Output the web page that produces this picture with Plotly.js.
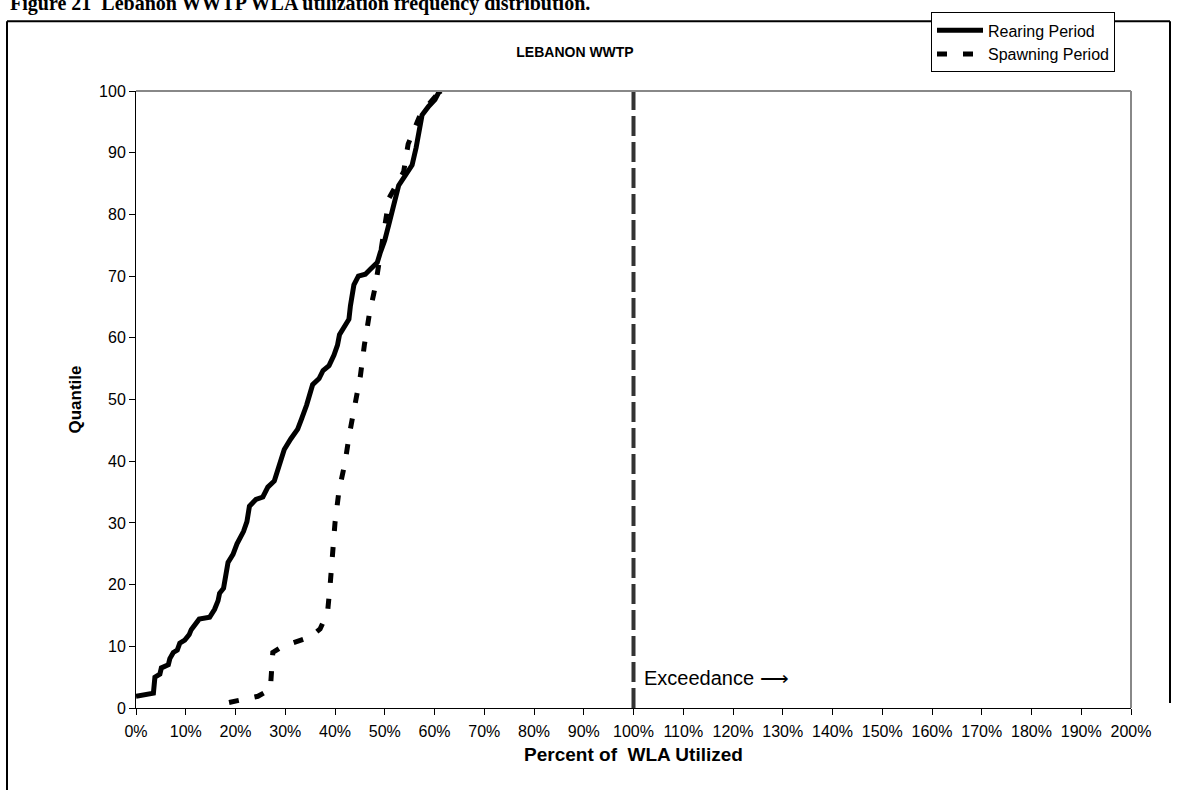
<!DOCTYPE html>
<html>
<head>
<meta charset="utf-8">
<script src="https://cdn.plot.ly/plotly-3.0.1.min.js"></script>
<style>
  html, body { margin: 0; padding: 0; background: #fff; }
  #chart { width: 1177px; height: 790px; }
</style>
</head>
<body>
<div id="chart"></div>
<script>
// ---- Data ----
const rearingX = [0, 3.5, 3.8, 4.8, 5.1, 6.5, 6.8, 7.5, 8.3, 8.8, 9.8, 10.7, 11.1, 12.1, 12.7, 14.8, 15.8, 16.5, 16.8, 17.6, 18, 18.5, 19.5, 20.3, 21.6, 22.3, 22.8, 24.1, 25.5, 26.5, 27.8, 28.5, 29.1, 29.8, 31.1, 32.5, 33.3, 34.3, 35.5, 36.8, 37.6, 38.8, 39.8, 40.5, 40.9, 42.1, 42.8, 43.1, 43.5, 43.8, 44.7, 46.1, 47.1, 48.5, 49.1, 50, 50.8, 51.6, 52.8, 54.1, 55.5, 56.3, 57.1, 57.5, 58.8, 60.1, 60.8, 61.3];
const rearingY = [1.9, 2.4, 5.0, 5.5, 6.5, 7, 8, 9, 9.4, 10.5, 11, 11.9, 12.7, 13.6, 14.4, 14.7, 16, 17.4, 18.6, 19.4, 21.3, 23.6, 24.9, 26.6, 28.6, 30.2, 32.7, 33.8, 34.2, 35.8, 36.8, 38.6, 40, 41.9, 43.6, 45.2, 46.9, 49.1, 52.4, 53.4, 54.7, 55.5, 57.2, 58.8, 60.5, 61.9, 63, 65.2, 67, 68.6, 70, 70.3, 71.1, 72.2, 73.8, 75.8, 78.3, 81, 84.7, 86.3, 88, 90.8, 94.4, 96.1, 97.5, 98.6, 99.7, 100];

const spawningX = [18.7, 24.5, 27, 27.5, 29.5, 35, 37, 38.5, 39, 39.5, 40, 40.8, 42, 42.9, 43.9, 45.1, 45.9, 46.9, 48.1, 49.1, 49.8, 50.9, 52.5, 53.8, 54.7, 57.1, 59, 60.8];
const spawningY = [0.9, 1.9, 3, 9, 10, 11.5, 12.8, 15.5, 19.7, 25, 30, 35.2, 39.7, 44.4, 49.1, 53.8, 58.8, 63.8, 68.3, 73.3, 78, 82.7, 85, 86.9, 91.4, 96.1, 98, 99.7];

const limitX = [100, 100];
const limitY = [0, 100];

const xTickVals = [0,10,20,30,40,50,60,70,80,90,100,110,120,130,140,150,160,170,180,190,200];
const xTickText = xTickVals.map(v => v + '%');
const yTickVals = [0,10,20,30,40,50,60,70,80,90,100];

const seriesNames = ['Rearing Period', 'Spawning Period'];
const chartTitle = 'LEBANON WWTP';
const caption = 'Figure 21  Lebanon WWTP WLA utilization frequency distribution.';

// ---- Layout geometry (pixels) ----
const W = 1177, H = 790;
const mL = 136, mR = 46, mT = 88, mB = 82;
const plotW = W - mL - mR, plotH = H - mT - mB;
const px = X => (X - mL) / plotW;          // page px -> paper x
const py = Y => (H - mB - Y) / plotH;      // page px -> paper y

const AX = 'Liberation Sans, Arial, sans-serif';

const traces = [
  {
    x: rearingX, y: rearingY, name: seriesNames[0], type: 'scatter', mode: 'lines',
    line: { color: '#000', width: 5 }
  },
  {
    x: spawningX, y: spawningY, name: seriesNames[1], type: 'scatter', mode: 'lines',
    line: { color: '#000', width: 5, dash: '10px,16px' }
  },
  {
    x: limitX, y: limitY, type: 'scatter', mode: 'lines', showlegend: false, hoverinfo: 'skip',
    line: { color: '#333', width: 4, dash: '20px,6px' }
  }
];

const line = (x0, y0, x1, y1, color, width) => ({
  type: 'line', xref: 'paper', yref: 'paper', x0, y0, x1, y1,
  line: { color, width }, layer: 'above'
});

const layout = {
  width: W, height: H,
  margin: { l: mL, r: mR, t: mT, b: mB, pad: 0 },
  paper_bgcolor: '#fff', plot_bgcolor: '#fff',
  font: { family: AX, size: 16, color: '#000' },
  title: {
    text: '<b>' + chartTitle + '</b>',
    font: { family: AX, size: 14, color: '#000' },
    x: px(575), xref: 'paper', xanchor: 'center',
    y: 1 - 52 / H, yref: 'container', yanchor: 'middle'
  },
  showlegend: true,
  legend: {
    x: px(931), y: py(9), xanchor: 'left', yanchor: 'top',
    bgcolor: '#fff', bordercolor: '#000', borderwidth: 1,
    font: { family: AX, size: 16, color: '#000' },
    itemwidth: 46,
    tracegroupgap: 0
  },
  xaxis: {
    range: [0, 200], tickvals: xTickVals, ticktext: xTickText,
    showgrid: false, zeroline: false,
    showline: true, linecolor: '#000', linewidth: 1,
    ticks: 'outside', ticklen: 6, tickcolor: '#000', tickwidth: 1,
    ticklabelstandoff: 3,
    tickfont: { family: AX, size: 16, color: '#000' },
    title: { text: '<b>Percent of&nbsp; WLA Utilized</b>', font: { family: AX, size: 19, color: '#000' }, standoff: 8 },
    fixedrange: true
  },
  yaxis: {
    range: [0, 100], tickvals: yTickVals,
    showgrid: false, zeroline: false,
    showline: true, linecolor: '#000', linewidth: 1,
    ticks: 'outside', ticklen: 6, tickcolor: '#000', tickwidth: 1,
    tickfont: { family: AX, size: 16, color: '#000' },
    title: { text: '<b>Quantile</b>', font: { family: AX, size: 17, color: '#000' }, standoff: 13 },
    fixedrange: true
  },
  shapes: [
    // plot-area border (top and right, grey)
    line(0, 1, 1, 1, '#888', 2),
    line(1, 0, 1, 1, '#888', 2),
    // outer frame
    line(px(7), py(18), px(1170), py(18), '#000', 2),
    line(px(7), py(18), px(7), py(795), '#000', 2),
    line(px(1170), py(18), px(1170), py(703), '#000', 2)
  ],
  annotations: [
    {
      text: 'Exceedance ⟶', xref: 'x', yref: 'y', x: 101.8, y: 4.8,
      xanchor: 'left', yanchor: 'middle', showarrow: false,
      font: { family: AX, size: 20, color: '#000' }
    },
    {
      text: '<b>' + caption + '</b>', xref: 'paper', yref: 'paper',
      x: px(8), y: py(0), xanchor: 'left', yanchor: 'middle', showarrow: false,
      font: { family: 'Liberation Serif, Times New Roman, serif', size: 20, color: '#000' }
    }
  ]
};

Plotly.newPlot('chart', traces, layout, { displayModeBar: false, staticPlot: true });
</script>
</body>
</html>
